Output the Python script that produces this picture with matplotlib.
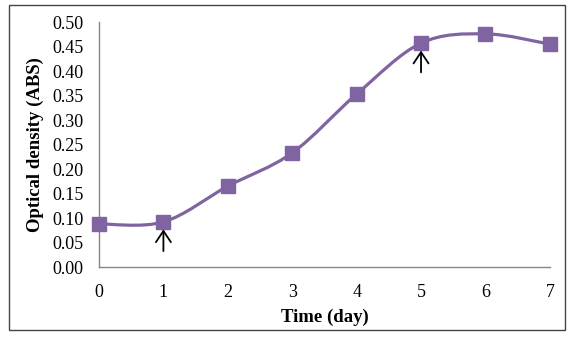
import matplotlib
matplotlib.use("Agg")
import matplotlib.pyplot as plt
import numpy as np
from matplotlib.path import Path
from matplotlib.patches import PathPatch, Rectangle

days = [0, 1, 2, 3, 4, 5, 6, 7]
od = [0.088, 0.092, 0.165, 0.233, 0.353, 0.457, 0.476, 0.455]
yticks = [0.00, 0.05, 0.10, 0.15, 0.20, 0.25, 0.30, 0.35, 0.40, 0.45, 0.50]
arrow_days = [1, 5]

color = "#8064A2"
plt.rcParams['font.family'] = ['Liberation Serif', 'DejaVu Serif']

fig = plt.figure(figsize=(5.8, 3.4), dpi=100)
ax = fig.add_axes([0.1707, 0.2147, 0.948 - 0.1707, 0.935 - 0.2147])

# smooth curve (Excel-like Bezier spline)
x = np.array(days, dtype=float)
y = np.array(od, dtype=float)
n = len(x)
verts = [(x[0], y[0])]
codes = [Path.MOVETO]
for i in range(n - 1):
    p0 = np.array([x[max(i - 1, 0)], y[max(i - 1, 0)]])
    p1 = np.array([x[i], y[i]])
    p2 = np.array([x[i + 1], y[i + 1]])
    p3 = np.array([x[min(i + 2, n - 1)], y[min(i + 2, n - 1)]])
    c1 = p1 + (p2 - p0) / 6.0
    c2 = p2 - (p3 - p1) / 6.0
    verts += [tuple(c1), tuple(c2), tuple(p2)]
    codes += [Path.CURVE4] * 3
ax.add_patch(PathPatch(Path(verts, codes), facecolor='none', edgecolor=color,
                       lw=2.3, zorder=2, clip_on=False))
ax.plot(days, od, linestyle='none', marker='s', markersize=10.5, color=color,
        zorder=3, clip_on=False)

for d in arrow_days:
    v = od[days.index(d)]
    ax.annotate('', xy=(d, v), xytext=(0, -21), textcoords='offset points',
                xycoords='data',
                arrowprops=dict(arrowstyle='->,head_length=0.45,head_width=0.3',
                                color='black', lw=1.3,
                                shrinkA=0, shrinkB=5.3, mutation_scale=18))

ax.set_xlim(0, 7)
ax.set_ylim(0, 0.5)
ax.set_xticks(days)
ax.set_yticks(yticks)
ax.set_yticklabels([f"{t:.2f}" for t in yticks])
ax.tick_params(length=0, labelsize=13, colors='black')
ax.tick_params(axis='y', pad=11)
ax.tick_params(axis='x', pad=12)
for s in ['top', 'right']:
    ax.spines[s].set_visible(False)
for s in ['left', 'bottom']:
    ax.spines[s].set_color('#868686')
    ax.spines[s].set_linewidth(1.0)
ax.set_xlabel('Time (day)', fontsize=13.5, fontweight='bold', labelpad=6)
ax.set_ylabel('Optical density (ABS)', fontsize=13.5, fontweight='bold', labelpad=6)

fig.patches.append(Rectangle((9 / 580, 1 - 330 / 340), (565 - 9) / 580, (330 - 5) / 340,
                             transform=fig.transFigure, fill=False,
                             edgecolor='#444444', lw=1.0))

fig.savefig('out.png', dpi=100)
